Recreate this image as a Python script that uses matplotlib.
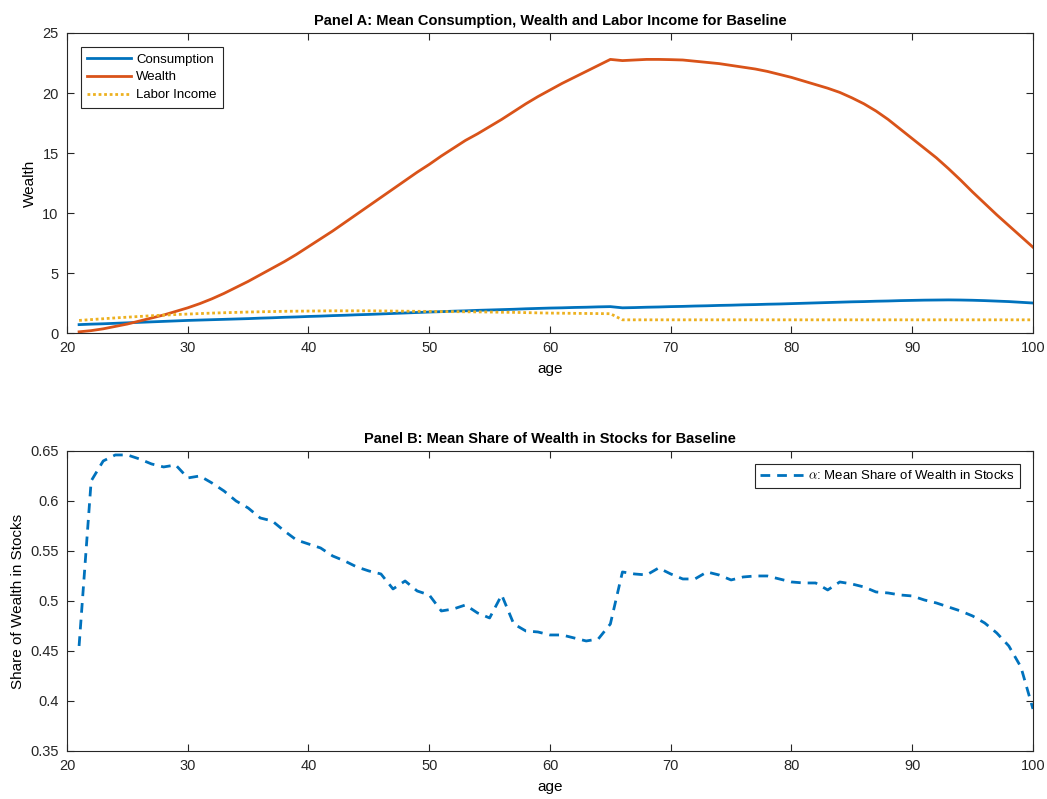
import matplotlib
matplotlib.use('Agg')
import matplotlib.pyplot as plt
from matplotlib.ticker import FuncFormatter

plt.rcParams['font.family'] = ['Liberation Sans', 'DejaVu Sans']
plt.rcParams['mathtext.fontset'] = 'cm'

age = list(range(21, 101))

# Panel A series (one value per age 21..100)
wealth = [0.1, 0.2, 0.35, 0.55, 0.75, 1.0, 1.25, 1.5, 1.8, 2.1,
          2.45, 2.85, 3.3, 3.8, 4.3, 4.85, 5.4, 5.95, 6.55, 7.2,
          7.85, 8.5, 9.2, 9.9, 10.6, 11.3, 12.0, 12.7, 13.4, 14.05,
          14.75, 15.4, 16.05, 16.6, 17.2, 17.8, 18.45, 19.1, 19.7, 20.25,
          20.8, 21.3, 21.8, 22.3, 22.8, 22.7, 22.75, 22.8, 22.8, 22.78,
          22.75, 22.65, 22.55, 22.45, 22.3, 22.15, 22.0, 21.8, 21.55, 21.3,
          21.0, 20.7, 20.4, 20.05, 19.6, 19.1, 18.5, 17.8, 17.0, 16.2,
          15.4, 14.6, 13.7, 12.75, 11.75, 10.8, 9.85, 8.95, 8.05, 7.15]

consumption = [0.7, 0.74, 0.77, 0.81, 0.85, 0.89, 0.93, 0.97, 1.01, 1.05,
               1.08, 1.11, 1.14, 1.17, 1.2, 1.24, 1.27, 1.31, 1.34, 1.38,
               1.41, 1.45, 1.48, 1.52, 1.55, 1.59, 1.63, 1.67, 1.71, 1.75,
               1.78, 1.82, 1.85, 1.89, 1.92, 1.95, 1.98, 2.02, 2.05, 2.08,
               2.1, 2.13, 2.15, 2.18, 2.2, 2.1, 2.12, 2.15, 2.17, 2.2,
               2.22, 2.25, 2.27, 2.3, 2.32, 2.35, 2.37, 2.4, 2.42, 2.45,
               2.48, 2.51, 2.54, 2.57, 2.6, 2.62, 2.65, 2.67, 2.7, 2.72,
               2.74, 2.75, 2.76, 2.75, 2.73, 2.7, 2.66, 2.62, 2.56, 2.5]

labor_income = [1.05, 1.12, 1.19, 1.26, 1.32, 1.38, 1.44, 1.49, 1.54, 1.58,
                1.62, 1.66, 1.69, 1.72, 1.75, 1.77, 1.79, 1.81, 1.82, 1.83,
                1.84, 1.85, 1.85, 1.85, 1.85, 1.84, 1.83, 1.82, 1.81, 1.8,
                1.79, 1.78, 1.77, 1.76, 1.75, 1.73, 1.72, 1.7, 1.68, 1.66,
                1.65, 1.64, 1.63, 1.62, 1.61, 1.1, 1.1, 1.1, 1.1, 1.1,
                1.1, 1.1, 1.1, 1.1, 1.1, 1.1, 1.1, 1.1, 1.1, 1.1,
                1.1, 1.1, 1.1, 1.1, 1.1, 1.1, 1.1, 1.1, 1.1, 1.1,
                1.1, 1.1, 1.1, 1.1, 1.1, 1.1, 1.1, 1.1, 1.1, 1.1]

# Panel B series
alpha_share = [0.455, 0.62, 0.64, 0.646, 0.646, 0.642, 0.637, 0.634, 0.636, 0.623,
               0.625, 0.618, 0.61, 0.6, 0.593, 0.583, 0.58, 0.57, 0.561, 0.557,
               0.553, 0.545, 0.54, 0.534, 0.53, 0.527, 0.512, 0.52, 0.51, 0.506,
               0.49, 0.492, 0.496, 0.488, 0.483, 0.506, 0.477, 0.47, 0.469, 0.466,
               0.466, 0.463, 0.46, 0.462, 0.477, 0.529, 0.527, 0.526, 0.533, 0.527,
               0.522, 0.522, 0.529, 0.526, 0.521, 0.524, 0.525, 0.525, 0.522, 0.519,
               0.518, 0.518, 0.511, 0.519, 0.517, 0.514, 0.509, 0.508, 0.506, 0.505,
               0.501, 0.498, 0.494, 0.49, 0.485, 0.478, 0.468, 0.455, 0.434, 0.392]

blue = '#0072BD'
orange = '#D95319'
yellow = '#EDB120'
axcol = '#262626'

fig = plt.figure(figsize=(10.47, 7.99), dpi=100)
ax1 = fig.add_axes([0.064, 0.5832, 0.9226, 0.3755])
ax2 = fig.add_axes([0.064, 0.0601, 0.9226, 0.3755])

ax1.plot(age, consumption, color=blue, linewidth=2, label='Consumption')
ax1.plot(age, wealth, color=orange, linewidth=2, label='Wealth')
ax1.plot(age, labor_income, color=yellow, linewidth=2, linestyle=(0, (1, 1)), label='Labor Income')
ax1.set_ylim(0, 25)
ax1.set_yticks([0, 5, 10, 15, 20, 25])
ax1.set_title('Panel A: Mean Consumption, Wealth and Labor Income for Baseline',
              fontsize=10.5, fontweight='bold', pad=6)
ax1.set_ylabel('Wealth', fontsize=11, labelpad=4)
leg1 = ax1.legend(loc='upper left', fontsize=9.5, fancybox=False, edgecolor=axcol,
                  framealpha=1, handlelength=3.3, handletextpad=0.4,
                  borderaxespad=1.05, labelspacing=0.42, borderpad=0.5)
leg1.get_frame().set_linewidth(0.8)

ax2.plot(age, alpha_share, color=blue, linewidth=2, linestyle=(0, (3.5, 2.5)),
         label=r'$\alpha$: Mean Share of Wealth in Stocks')
ax2.set_ylim(0.35, 0.65)
ax2.set_yticks([0.35, 0.4, 0.45, 0.5, 0.55, 0.6, 0.65])
ax2.yaxis.set_major_formatter(FuncFormatter(lambda v, p: '%g' % round(v, 2)))
ax2.set_title('Panel B: Mean Share of Wealth in Stocks for Baseline',
              fontsize=10.5, fontweight='bold', pad=6)
ax2.set_ylabel('Share of Wealth in Stocks', fontsize=11, labelpad=4)
leg2 = ax2.legend(loc='upper right', fontsize=9.5, fancybox=False, edgecolor=axcol,
                  framealpha=1, handlelength=3.3, handletextpad=0.3,
                  borderaxespad=1.0, borderpad=0.4)
leg2.get_frame().set_linewidth(0.8)

for ax in (ax1, ax2):
    ax.set_xlim(20, 100)
    ax.set_xticks(range(20, 101, 10))
    ax.set_xlabel('age', fontsize=11, labelpad=5)
    ax.tick_params(direction='in', top=True, right=True, labelsize=10.5,
                   colors=axcol, length=5, width=0.8, pad=6)
    for s in ax.spines.values():
        s.set_color(axcol)
        s.set_linewidth(0.8)

fig.savefig('out.png', dpi=100)
